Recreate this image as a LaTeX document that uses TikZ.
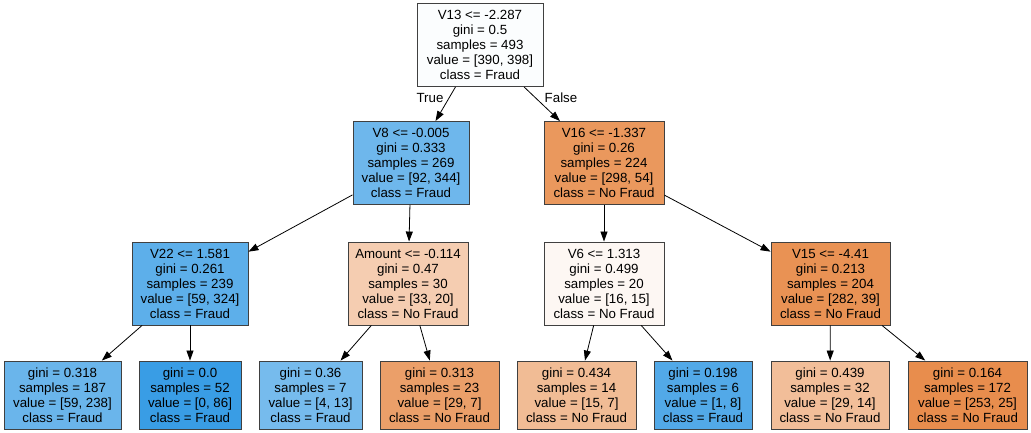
\documentclass[tikz,border=0pt]{standalone}
\usepackage{fontspec}
\setmainfont{Liberation Sans}
\usetikzlibrary{arrows.meta}

% sklearn-style fill colours (class colour blended with white by purity)
\definecolor{cRoot}{HTML}{FBFDFE}
\definecolor{cVeight}{HTML}{6EB7EC}
\definecolor{cVsixteen}{HTML}{EA985D}
\definecolor{cVtwentytwo}{HTML}{5DAFEA}
\definecolor{cAmount}{HTML}{F5CDB1}
\definecolor{cVsix}{HTML}{FDF7F3}
\definecolor{cVfifteen}{HTML}{E99254}
\definecolor{cLa}{HTML}{6AB5EB}
\definecolor{cLb}{HTML}{399DE5}
\definecolor{cLc}{HTML}{76BBED}
\definecolor{cLd}{HTML}{EB9F69}
\definecolor{cLe}{HTML}{F1BC95}
\definecolor{cLf}{HTML}{52A9E8}
\definecolor{cLg}{HTML}{F2BE99}
\definecolor{cLh}{HTML}{E88D4D}

\tikzset{
  treenode/.style={draw=black!75, line width=0.9pt, align=center, inner sep=0pt,
    font=\fontsize{13.3}{15}\selectfont},
  split/.style={treenode, minimum height=83pt},
  leaf/.style={treenode, minimum height=68pt},
  edge/.style={line width=0.8pt, -{Triangle[length=10pt,width=7pt]}},
  branch/.style={font=\fontsize{13.3}{15}\selectfont, inner sep=0pt}
}

\begin{document}
\begin{tikzpicture}[x=1pt,y=-1pt]
\useasboundingbox (0,0) rectangle (1031,433);

% internal nodes
\node[split, fill=cRoot, minimum width=126pt] (root) at (480,45)
  {V13 <= -2.287\\gini = 0.5\\samples = 493\\value = [390, 398]\\class = Fraud};
\node[split, fill=cVeight, minimum width=116pt] (v8) at (411,163)
  {V8 <= -0.005\\gini = 0.333\\samples = 269\\value = [92, 344]\\class = Fraud};
\node[split, fill=cVsixteen, minimum width=120pt] (v16) at (604,163)
  {V16 <= -1.337\\gini = 0.26\\samples = 224\\value = [298, 54]\\class = No Fraud};
\node[split, fill=cVtwentytwo, minimum width=116pt] (v22) at (190,283.5)
  {V22 <= 1.581\\gini = 0.261\\samples = 239\\value = [59, 324]\\class = Fraud};
\node[split, fill=cAmount, minimum width=120pt] (amt) at (408,283.5)
  {Amount <= -0.114\\gini = 0.47\\samples = 30\\value = [33, 20]\\class = No Fraud};
\node[split, fill=cVsix, minimum width=120pt] (v6) at (604,283.5)
  {V6 <= 1.313\\gini = 0.499\\samples = 20\\value = [16, 15]\\class = No Fraud};
\node[split, fill=cVfifteen, minimum width=119pt] (v15) at (830.5,283.5)
  {V15 <= -4.41\\gini = 0.213\\samples = 204\\value = [282, 39]\\class = No Fraud};

% leaves
\node[leaf, fill=cLa, minimum width=117pt] (l1) at (62.5,395)
  {gini = 0.318\\samples = 187\\value = [59, 238]\\class = Fraud};
\node[leaf, fill=cLb, minimum width=102pt] (l2) at (190,395)
  {gini = 0.0\\samples = 52\\value = [0, 86]\\class = Fraud};
\node[leaf, fill=cLc, minimum width=103pt] (l3) at (310.5,395)
  {gini = 0.36\\samples = 7\\value = [4, 13]\\class = Fraud};
\node[leaf, fill=cLd, minimum width=119pt] (l4) at (439.5,395)
  {gini = 0.313\\samples = 23\\value = [29, 7]\\class = No Fraud};
\node[leaf, fill=cLe, minimum width=119pt] (l5) at (576.5,395)
  {gini = 0.434\\samples = 14\\value = [15, 7]\\class = No Fraud};
\node[leaf, fill=cLf, minimum width=98pt] (l6) at (703,395)
  {gini = 0.198\\samples = 6\\value = [1, 8]\\class = Fraud};
\node[leaf, fill=cLg, minimum width=118pt] (l7) at (830,395)
  {gini = 0.439\\samples = 32\\value = [29, 14]\\class = No Fraud};
\node[leaf, fill=cLh, minimum width=119pt] (l8) at (967.5,395)
  {gini = 0.164\\samples = 172\\value = [253, 25]\\class = No Fraud};

% branches
\draw[edge] (root) -- (v8);
\draw[edge] (root) -- (v16);
\draw[edge] (v8) -- (v22);
\draw[edge] (v8) -- (amt);
\draw[edge] (v16) -- (v6);
\draw[edge] (v16) -- (v15);
\draw[edge] (v22) -- (l1);
\draw[edge] (v22) -- (l2);
\draw[edge] (amt) -- (l3);
\draw[edge] (amt) -- (l4);
\draw[edge] (v6) -- (l5);
\draw[edge] (v6) -- (l6);
\draw[edge] (v15) -- (l7);
\draw[edge] (v15) -- (l8);

% branch labels
\node[branch] (ltrue) at (430,98) {True};
\node[branch] (lfalse) at (561,98) {False};
\end{tikzpicture}
\end{document}
